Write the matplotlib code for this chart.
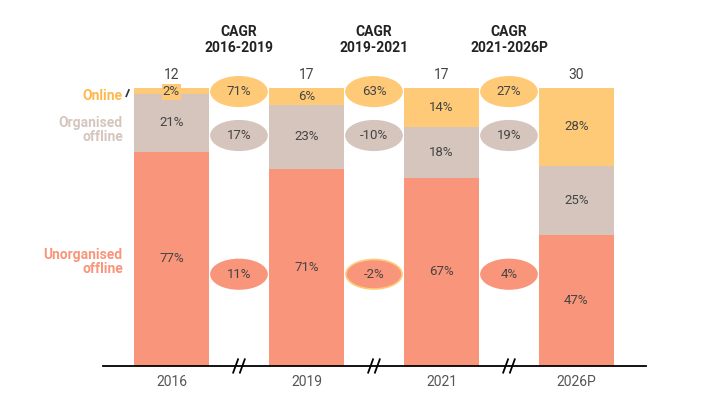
import numpy as np
import matplotlib.pyplot as plt
from matplotlib.patches import Ellipse

plt.rcParams['font.family'] = ['Roboto', 'DejaVu Sans']

years = ["2016", "2019", "2021", "2026P"]
totals = [12, 17, 17, 30]
unorganised = [77, 71, 67, 47]
organised = [21, 23, 18, 25]
online = [2, 6, 14, 28]

cagr_titles = ["CAGR\n2016-2019", "CAGR\n2019-2021", "CAGR\n2021-2026P"]
cagr_online = ["71%", "63%", "27%"]
cagr_organised = ["17%", "-10%", "19%"]
cagr_unorganised = ["11%", "-2%", "4%"]

c_un = "#F8957A"
c_org = "#D5C5BD"
c_on = "#FFCA78"
c_text = "#444444"

fig = plt.figure(figsize=(7.11, 4.12), dpi=100)
ax = fig.add_axes([0.1449, 0.1117, 0.7637, 0.6748])

x = np.arange(len(years))
un = np.array(unorganised, float)
og = np.array(organised, float)
on = np.array(online, float)
tot = un + og + on
h_un, h_og, h_on = un / tot * 100, og / tot * 100, on / tot * 100

w = 0.556
ax.bar(x, h_un, w, color=c_un)
ax.bar(x, h_og, w, bottom=h_un, color=c_org)
ax.bar(x, h_on, w, bottom=h_un + h_og, color=c_on)

fs = 9.5
for i in range(len(years)):
    ax.text(x[i], h_un[i] / 2, f"{unorganised[i]}%", ha="center", va="center", fontsize=fs, color=c_text)
    ax.text(x[i], h_un[i] + h_og[i] / 2, f"{organised[i]}%", ha="center", va="center", fontsize=fs, color=c_text)
    y_on = h_un[i] + h_og[i] + h_on[i] / 2
    if h_on[i] < 5:
        ax.text(x[i], 98.6, f"{online[i]}%", ha="center", va="center", fontsize=fs, color=c_text,
                bbox=dict(boxstyle="square,pad=0.1", fc=c_on, ec="none"))
    else:
        ax.text(x[i], y_on, f"{online[i]}%", ha="center", va="center", fontsize=fs, color=c_text)
    ax.text(x[i], 104.7, str(totals[i]), ha="center", va="center", fontsize=10, color=c_text)
    ax.text(x[i], -5.7, years[i], ha="center", va="center", fontsize=10, color="#555555")

# CAGR bubbles between bars
gaps = x[:-1] + 0.5
for j, g in enumerate(gaps):
    ax.text(g, 117.3, cagr_titles[j], ha="center", va="center", fontsize=10,
            fontweight="bold", color="#222222", linespacing=1.2)
    rows = [(98.7, cagr_online[j], c_on, c_on),
            (82.9, cagr_organised[j], c_org, c_org),
            (33.0, cagr_unorganised[j], c_un, c_on if cagr_unorganised[j].startswith("-") else c_un)]
    for yy, lab, fc, ec in rows:
        ax.add_patch(Ellipse((g, yy), 0.415, 10.6, facecolor=fc, edgecolor=ec, lw=1.2, clip_on=False))
        ax.text(g, yy, lab, ha="center", va="center", fontsize=fs, color=c_text)
    # axis break marks
    for dx in (-0.025, 0.025):
        ax.plot([g + dx - 0.018, g + dx + 0.018], [-2.4, 2.4], color="black", lw=1.3, clip_on=False)

# left labels
ax.text(-0.36, 97.2, "Online", ha="right", va="center", fontsize=10, fontweight="bold", color="#FFB84D")
ax.plot([-0.335, -0.315], [97.0, 99.3], color="#333333", lw=1.2, clip_on=False)
ax.text(-0.36, 85.0, "Organised\noffline", ha="right", va="center", fontsize=10, fontweight="bold",
        color=c_org, linespacing=1.0)
ax.text(-0.36, 37.5, "Unorganised\noffline", ha="right", va="center", fontsize=10, fontweight="bold",
        color=c_un, linespacing=1.0)

ax.set_xlim(-0.507, 3.515)
ax.set_ylim(0, 100)
for s in ["top", "right", "left"]:
    ax.spines[s].set_visible(False)
ax.spines["bottom"].set_linewidth(1.3)
ax.set_xticks([])
ax.set_yticks([])

fig.savefig("out.png", dpi=100)
